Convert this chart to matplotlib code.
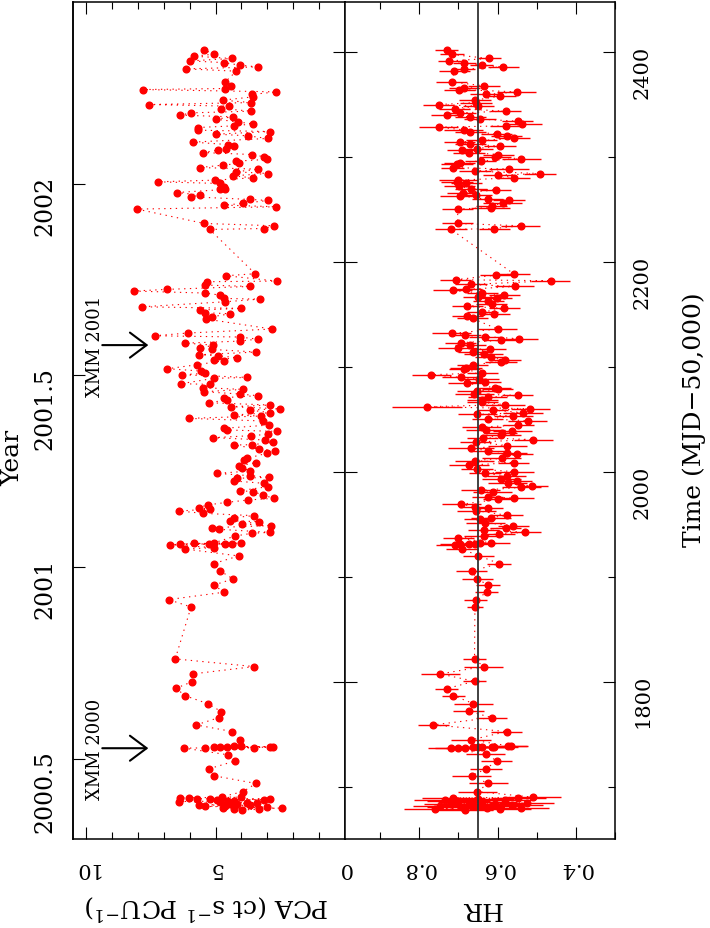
import matplotlib
matplotlib.use("Agg")
import matplotlib.pyplot as plt
from matplotlib.ticker import MultipleLocator, FixedLocator, NullLocator, FixedFormatter

plt.rcParams['font.family'] = ['DejaVu Serif']
plt.rcParams['mathtext.fontset'] = 'dejavuserif'

# ---------------- data ----------------
t_pca = [1677.8,1678.2,1678.8,1679.4,1679.8,1680.4,1681.0,1681.4,1682.0,1682.5,
         1682.9,1683.3,1684.1,1684.5,1684.9,1685.7,1686.1,1686.5,1687.0,1687.3,
         1687.7,1688.1,1688.5,1688.9,1689.3,1689.7,1690.2,1695.2,1702.9,1710.2,
         1716.8,1724.4,1730.2,1736.6,1736.8,1737.0,1737.2,1737.4,1737.6,1737.8,
         1738.0,1738.2,1738.4,1744.4,1752.4,1758.7,1765.7,1771.4,1779.0,1786.7,
         1793.7,1800.0,1807.3,1814.3,1821.6,1871.1,1878.1,1885.1,1892.1,1897.8,
         1905.4,1912.4,1919.7,1926.3,1927.6,1930.6,1930.8,1931.0,1931.2,1931.4,
         1931.6,1931.8,1932.0,1938.7,1941.3,1942.2,1945.1,1946.7,1948.6,1950.2,
         1952.4,1953.3,1956.2,1958.1,1960.3,1962.5,1964.4,1965.7,1968.3,1970.8,
         1973.0,1974.6,1977.8,1981.0,1981.9,1985.7,1988.9,1991.1,1993.7,1994.6,
         1996.2,1998.4,2000.6,2003.8,2005.4,2008.6,2011.1,2012.7,2017.5,2020.0,
         2021.6,2025.4,2025.7,2027.9,2030.2,2032.4,2034.3,2035.6,2038.4,2039.7,
         2041.3,2044.4,2048.3,2050.8,2053.0,2054.0,2056.2,2058.7,2060.0,2061.9,
         2063.5,2065.7,2068.3,2070.5,2072.4,2074.0,2076.2,2078.4,2080.0,2083.2,
         2083.8,2088.9,2089.8,2092.4,2093.7,2095.9,2098.1,2101.9,2105.7,2106.3,
         2108.6,2110.5,2111.4,2114.0,2116.5,2117.5,2120.6,2122.5,2124.4,2126.3,
         2128.3,2129.5,2132.1,2135.9,2145.4,2147.6,2150.5,2151.4,2154.0,2155.6,
         2157.1,2161.9,2164.4,2165.1,2168.3,2170.2,2172.1,2173.7,2176.5,2177.8,
         2181.0,2181.6,2186.7,2188.6,2230.8,2231.7,2234.3,2236.5,2250.2,2252.4,
         2254.0,2255.6,2258.4,2259.4,2261.9,2263.5,2266.0,2268.9,2269.8,2271.4,
         2274.6,2276.2,2277.8,2280.0,2281.9,2284.1,2285.7,2288.3,2289.8,2292.1,
         2293.7,2295.9,2297.5,2300.0,2302.2,2304.1,2306.3,2307.0,2310.2,2311.7,
         2314.0,2317.5,2320.0,2321.6,2324.1,2325.4,2327.9,2329.5,2331.4,2333.3,
         2335.9,2338.1,2339.7,2341.9,2343.5,2346.0,2348.3,2349.8,2351.7,2354.0,
         2357.1,2359.4,2361.9,2364.1,2365.1,2367.6,2371.4,2381.6,2383.8,2385.7,
         2387.3,2389.8,2391.4,2393.7,2395.9,2397.8,2402.2]
pca = [3.98,3.34,4.30,2.44,4.72,3.02,5.40,4.63,3.66,5.66,
       4.18,4.46,3.79,3.40,4.82,6.43,4.56,4.30,4.95,3.14,
       5.21,2.89,5.72,6.01,6.37,4.02,4.76,3.94,3.44,5.05,
       5.27,4.24,4.52,6.21,5.40,3.51,5.08,2.91,4.82,4.56,
       2.78,4.30,4.02,4.07,4.36,5.75,4.87,4.78,5.31,6.20,
       6.52,5.90,5.89,3.51,6.56,5.95,6.82,4.69,5.05,4.33,
       4.82,5.08,4.11,6.17,5.08,6.78,5.27,4.37,6.37,4.63,
       5.85,4.02,5.08,4.24,3.60,2.89,4.88,5.14,2.85,3.98,
       3.34,4.46,4.30,3.53,5.49,6.40,5.21,5.66,5.31,4.56,
       3.75,2.76,3.17,3.56,4.07,2.98,3.12,4.28,4.18,2.93,
       3.69,4.95,3.66,3.98,4.11,3.44,3.92,3.79,3.02,2.69,
       3.34,4.30,3.60,2.80,3.08,5.10,3.63,2.99,2.63,4.56,
       4.69,2.95,3.17,6.04,3.25,4.30,2.89,3.69,2.53,4.41,
       2.89,5.27,4.56,4.69,3.38,4.07,5.44,3.94,5.49,5.21,
       6.34,5.08,3.79,6.30,5.40,5.57,6.86,5.72,4.69,5.05,
       4.18,4.91,5.63,3.43,5.14,5.59,5.10,6.17,4.07,3.38,
       4.07,7.36,6.08,2.82,5.36,5.14,4.43,5.40,5.59,4.02,
       7.85,4.63,3.30,4.69,4.85,5.40,8.17,6.88,3.66,5.40,
       5.34,2.63,4.60,3.47,5.23,3.14,2.73,5.44,8.04,2.65,
       4.66,3.96,2.98,3.66,5.95,5.59,6.49,4.65,4.82,4.69,
       4.82,7.24,5.01,3.57,4.34,2.99,4.21,3.35,5.62,4.72,
       4.09,4.21,3.02,3.12,3.60,5.49,4.91,4.60,4.28,4.52,
       5.89,2.99,3.75,4.97,2.91,5.70,5.70,4.30,3.56,4.15,
       4.99,4.33,6.37,5.94,3.63,4.78,4.47,7.59,3.63,4.73,
       3.56,3.60,2.65,7.81,4.63,4.41,4.63,4.20,6.13,3.38,
       4.05,4.69,5.98,4.37,5.85,5.08,5.46]

t_hr = [1677.8,1678.3,1678.8,1679.4,1679.9,1680.4,1681.0,1681.5,1682.1,1682.6,
        1683.2,1683.8,1684.4,1685.0,1685.6,1686.2,1686.8,1687.4,1688.0,1688.6,
        1689.2,1689.8,1695.2,1702.9,1710.2,1716.8,1724.4,1730.8,1736.6,1736.8,
        1737.0,1737.2,1737.4,1737.6,1737.8,1738.0,1738.2,1738.4,1744.4,1752.4,
        1758.7,1765.7,1771.7,1779.0,1786.7,1793.3,1800.3,1807.3,1814.3,1821.6,
        1871.1,1877.8,1885.1,1892.1,1897.8,1905.4,1912.4,1920.0,1926.3,1930.6,
        1930.9,1931.2,1931.5,1931.8,1932.1,1937.1,1938.7,1941.0,1942.2,1944.8,
        1946.7,1948.6,1951.4,1954.6,1956.2,1958.4,1962.9,1965.1,1966.7,1968.9,
        1973.7,1974.9,1975.9,1981.0,1982.2,1985.1,1986.3,1988.9,1991.1,1992.7,
        1995.9,1998.4,2000.0,2002.5,2006.3,2008.6,2010.5,2012.7,2016.5,2018.1,
        2020.0,2022.2,2024.8,2028.3,2030.5,2032.4,2034.9,2037.1,2038.4,2039.7,
        2042.5,2044.4,2048.6,2050.2,2053.0,2054.6,2056.2,2058.7,2060.0,2061.9,
        2063.8,2066.0,2068.3,2070.8,2072.7,2074.0,2076.8,2078.4,2080.0,2084.1,
        2085.7,2087.9,2089.8,2092.4,2094.0,2097.5,2098.4,2101.9,2104.8,2106.3,
        2108.9,2112.1,2114.3,2116.5,2117.5,2121.0,2122.9,2125.1,2126.7,2128.6,
        2129.8,2131.7,2135.9,2146.0,2148.3,2150.5,2152.1,2155.6,2157.5,2160.0,
        2162.5,2165.1,2166.0,2168.3,2170.2,2172.7,2173.7,2176.5,2178.4,2181.9,
        2182.9,2187.3,2188.3,2230.8,2231.7,2234.3,2236.5,2250.2,2251.7,2253.0,
        2256.2,2258.4,2259.4,2262.9,2264.1,2266.0,2268.3,2269.2,2272.1,2274.6,
        2276.2,2277.8,2280.0,2282.5,2284.1,2286.3,2288.3,2289.8,2292.7,2294.3,
        2296.2,2298.1,2300.0,2302.2,2304.1,2306.3,2307.9,2310.2,2312.1,2314.0,
        2315.6,2317.5,2320.0,2321.9,2323.8,2325.7,2328.3,2329.5,2331.7,2334.0,
        2335.9,2338.1,2339.7,2341.9,2343.5,2346.0,2348.3,2349.8,2351.7,2354.0,
        2357.8,2359.4,2361.9,2364.1,2365.7,2367.6,2371.4,2381.6,2383.5,2385.7,
        2387.3,2389.8,2391.4,2393.7,2397.5,2402.2]
hr = [0.683,0.594,0.759,0.628,0.539,0.691,0.615,0.747,0.564,0.662,
      0.607,0.719,0.526,0.673,0.641,0.700,0.581,0.734,0.649,0.547,
      0.713,0.509,0.652,0.624,0.666,0.630,0.602,0.630,0.719,0.700,
      0.683,0.662,0.651,0.641,0.615,0.608,0.573,0.565,0.668,0.577,
      0.764,0.615,0.674,0.662,0.713,0.730,0.659,0.747,0.636,0.659,
      0.658,0.656,0.628,0.625,0.652,0.666,0.596,0.649,0.691,0.708,
      0.696,0.674,0.658,0.645,0.618,0.700,0.636,0.596,0.529,0.636,
      0.579,0.560,0.632,0.646,0.617,0.575,0.655,0.625,0.658,0.693,
      0.598,0.557,0.625,0.613,0.643,0.539,0.511,0.574,0.551,0.591,
      0.577,0.632,0.557,0.653,0.673,0.559,0.659,0.590,0.550,0.575,
      0.624,0.668,0.575,0.656,0.509,0.638,0.591,0.590,0.563,0.630,
      0.641,0.547,0.523,0.625,0.560,0.652,0.535,0.613,0.516,0.780,
      0.581,0.639,0.639,0.625,0.549,0.660,0.653,0.600,0.607,0.677,
      0.632,0.647,0.693,0.769,0.639,0.685,0.681,0.664,0.591,0.581,
      0.618,0.636,0.662,0.619,0.702,0.670,0.694,0.592,0.546,0.632,
      0.683,0.717,0.600,0.664,0.677,0.609,0.639,0.583,0.677,0.615,
      0.624,0.602,0.649,0.583,0.639,0.715,0.681,0.556,0.668,0.464,
      0.707,0.604,0.558,0.719,0.608,0.541,0.702,0.702,0.618,0.615,
      0.587,0.571,0.625,0.697,0.655,0.689,0.605,0.668,0.698,0.680,
      0.704,0.700,0.558,0.598,0.492,0.658,0.571,0.715,0.704,0.697,
      0.643,0.540,0.607,0.598,0.673,0.690,0.653,0.594,0.670,0.697,
      0.641,0.558,0.577,0.602,0.670,0.687,0.751,0.579,0.537,0.549,
      0.645,0.670,0.730,0.696,0.579,0.710,0.649,0.751,0.655,0.658,
      0.594,0.630,0.551,0.698,0.685,0.635,0.717,0.711,0.687,0.585,
      0.641,0.685,0.723,0.621,0.717,0.730]
hr_err = [0.07,0.08,0.08,0.07,0.07,0.09,0.08,0.07,0.08,0.09,
          0.08,0.07,0.07,0.08,0.09,0.08,0.07,0.08,0.09,0.07,
          0.08,0.07,0.05,0.05,0.05,0.04,0.04,0.05,0.06,0.06,
          0.05,0.06,0.05,0.06,0.05,0.06,0.05,0.04,0.05,0.04,
          0.04,0.04,0.04,0.05,0.03,0.03,0.03,0.05,0.05,0.03,
          0.02,0.03,0.03,0.03,0.04,0.04,0.03,0.04,0.04,0.05,
          0.05,0.04,0.05,0.04,0.05,0.04,0.05,0.04,0.04,0.04,
          0.04,0.04,0.05,0.04,0.05,0.04,0.05,0.04,0.04,0.05,
          0.04,0.05,0.04,0.05,0.05,0.05,0.04,0.05,0.04,0.05,
          0.05,0.04,0.05,0.04,0.05,0.04,0.05,0.05,0.04,0.05,
          0.05,0.06,0.05,0.04,0.05,0.04,0.05,0.04,0.05,0.05,
          0.05,0.04,0.05,0.04,0.05,0.05,0.05,0.04,0.05,0.09,
          0.05,0.04,0.04,0.05,0.04,0.05,0.05,0.04,0.04,0.05,
          0.04,0.05,0.05,0.05,0.04,0.04,0.04,0.04,0.04,0.04,
          0.04,0.05,0.04,0.04,0.05,0.04,0.04,0.04,0.05,0.04,
          0.04,0.05,0.05,0.04,0.04,0.04,0.04,0.04,0.04,0.04,
          0.04,0.04,0.04,0.04,0.04,0.05,0.04,0.05,0.04,0.05,
          0.04,0.04,0.04,0.04,0.04,0.05,0.04,0.04,0.05,0.04,
          0.05,0.04,0.04,0.05,0.04,0.04,0.04,0.04,0.04,0.04,
          0.04,0.05,0.04,0.04,0.04,0.04,0.05,0.03,0.04,0.04,
          0.04,0.05,0.04,0.04,0.04,0.04,0.04,0.04,0.04,0.04,
          0.04,0.04,0.04,0.04,0.04,0.05,0.05,0.04,0.05,0.04,
          0.04,0.04,0.04,0.04,0.04,0.04,0.04,0.04,0.04,0.04,
          0.04,0.04,0.05,0.04,0.04,0.04,0.04,0.04,0.03,0.04,
          0.03,0.03,0.03,0.03,0.03,0.03]

hr_ref = 0.65
xmm_t = [1736.5, 2120.6]
xmm_labels = ['XMM 2000', 'XMM 2001']
year_ticks = [2000.5, 2001.0, 2001.5, 2002.0]
year_ticklabels = ['2000.5', '2001', '2001.5', '2002']

# ---------------- figure ----------------
W, H = 710, 929
fig = plt.figure(figsize=(W / 100, H / 100), dpi=100)
top_px, bot_px = 2.5, 840.0
x0, xm, x1 = 73.3, 345.0, 615.0
ax1 = fig.add_axes([x0 / W, 1 - bot_px / H, (xm - x0) / W, (bot_px - top_px) / H])
ax2 = fig.add_axes([xm / W, 1 - bot_px / H, (x1 - xm) / W, (bot_px - top_px) / H], sharey=ax1)

red = '#ff0000'
dot_ls = (0, (1.2, 4.0))
ax1.plot(pca, t_pca, color=red, lw=0.8, ls=dot_ls, zorder=2)
ax1.plot(pca, t_pca, 'o', color=red, ms=4.8, mec=red, zorder=3)

ax2.plot(hr, t_hr, color=red, lw=0.8, ls=dot_ls, zorder=2)
ax2.errorbar(hr, t_hr, xerr=hr_err, fmt='o', color=red, ms=4.8, elinewidth=1.0,
             capsize=0, zorder=3)
ax2.axvline(hr_ref, color='#333333', lw=1.3, zorder=4)

ax1.set_xlim(10.5, 0)
ax2.set_xlim(0.99, 0.30)
ax1.set_ylim(1650, 2448)

major_len, minor_len = 8.6, 5.0
for ax in (ax1, ax2):
    for s in ax.spines.values():
        s.set_linewidth(1.1)
    ax.tick_params(which='both', direction='in', width=0.8, top=True, bottom=True,
                   labelsize=15, colors='black')
    ax.tick_params(which='major', length=major_len)
    ax.tick_params(which='minor', length=minor_len)
    ax.tick_params(axis='x', labelrotation=180, pad=14)
    ax.yaxis.set_major_locator(MultipleLocator(200))
    ax.yaxis.set_minor_locator(MultipleLocator(100))

ax1.xaxis.set_major_locator(FixedLocator([0, 5, 10]))
ax1.xaxis.set_minor_locator(MultipleLocator(1))
ax2.xaxis.set_major_locator(FixedLocator([0.4, 0.6, 0.8]))
ax2.xaxis.set_minor_locator(MultipleLocator(0.1))
ax2.xaxis.set_major_formatter(FixedFormatter(['0.4', '0.6', '0.8']))

ax1.tick_params(axis='y', which='both', left=False, right=True, labelleft=False, labelright=False)
ax2.tick_params(axis='y', which='both', left=True, right=True, labelleft=False,
                labelright=True, labelrotation=90, pad=13)

# Year axis on the left of the PCA panel
def mjd2year(t):
    return 2000.0 + (t - 1544.0) / 365.25

def year2mjd(y):
    return (y - 2000.0) * 365.25 + 1544.0

sec = ax1.secondary_yaxis('left', functions=(mjd2year, year2mjd))
sec.yaxis.set_major_locator(FixedLocator(year_ticks))
sec.yaxis.set_major_formatter(FixedFormatter(year_ticklabels))
sec.yaxis.set_minor_locator(NullLocator())
sec.tick_params(which='major', direction='in', length=major_len, width=0.8,
                labelsize=17, labelrotation=90, pad=12)
sec.spines['left'].set_linewidth(1.1)

# XMM markers
for t, lab in zip(xmm_t, xmm_labels):
    ax1.annotate('', xy=(7.6, t), xytext=(9.38, t),
                 arrowprops=dict(arrowstyle='->,head_length=0.4,head_width=0.3',
                                 lw=1.5, color='black', mutation_scale=30,
                                 shrinkA=0, shrinkB=0))
    ax1.text(9.65, t, lab, rotation=90, ha='center', va='center', fontsize=13)

# axis labels
ax1.set_xlabel(r'PCA (ct s$^{-1}$ PCU$^{-1}$)', fontsize=18, rotation=180,
               ha='center', va='center')
ax1.xaxis.set_label_coords(0.492, -0.080)
ax2.set_xlabel('HR', fontsize=18, rotation=180, ha='center', va='center')
ax2.xaxis.set_label_coords(0.504, -0.082)
fig.text(694 / W, 1 - 420 / H, 'Time (MJD\u221250,000)', rotation=90,
         ha='center', va='center', fontsize=18)
fig.text(13 / W, 1 - 458 / H, 'Year', rotation=90, ha='center', va='center', fontsize=18)

fig.savefig('out.png', dpi=100)
